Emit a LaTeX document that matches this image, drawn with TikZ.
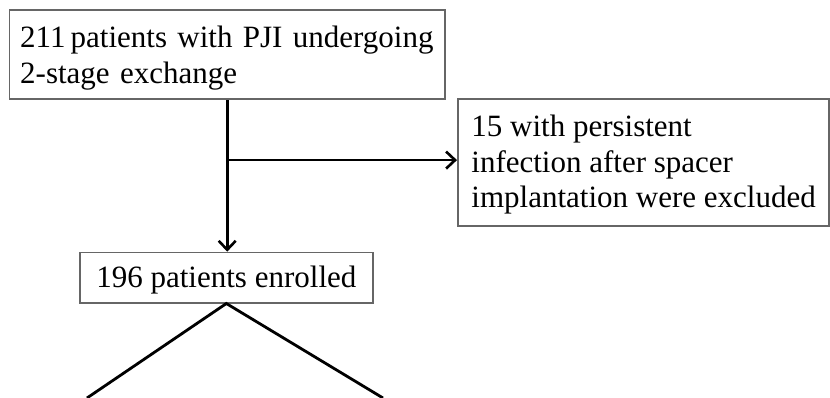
\documentclass[tikz,border=0pt]{standalone}
\usepackage{fontspec}
\setmainfont{Liberation Serif}
\usetikzlibrary{arrows.meta}

\begin{document}
\begin{tikzpicture}[x=1pt,y=-1pt,
  flowbox/.style={draw=black!60, line width=1.8pt, inner ysep=0pt,
    font=\fontsize{31}{35.5}\selectfont, text=black},
  link/.style={line width=2.8pt, black},
  linkarrow/.style={link, -{Straight Barb[length=9pt,width=17pt,line width=2.6pt]}}
]
  \useasboundingbox (0,0) rectangle (830,398);

  % boxes of the flow chart
  \node[flowbox, align=left, text width=414pt, inner xsep=10.8pt,
        text height=37.7pt, text depth=51.8pt]
    (top) at (227.2,9) [anchor=north]
    {211\,patients with PJI undergoing\\2-stage exchange};

  % without a text width the box is measured from its last line
  \node[flowbox, align=left, minimum width=371.3pt,
        text height=108.4pt, text depth=18.3pt]
    (excl) at (457,98.3) [anchor=north west]
    {15 with persistent\\infection after spacer\\implantation were excluded};

  \node[flowbox, align=center, minimum width=292.7pt,
        text height=35pt, text depth=15pt]
    (enrolled) at (226.35,251.7) [anchor=north]
    {196 patients enrolled};

  % branch point on the main line
  \path (top.south) ++(0,59.8) coordinate (split);
  \coordinate (legL) at (87,398);
  \coordinate (legR) at (383,398);

  % connectors
  \draw[linkarrow] (top.south) -- (top.south |- enrolled.north);
  \draw[linkarrow] (split) -- (excl.west |- split);
  \draw[link] (legL) -- (enrolled.south) -- (legR);
\end{tikzpicture}
\end{document}
